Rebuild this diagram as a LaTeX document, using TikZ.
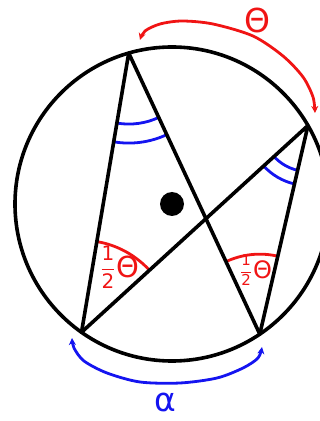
\documentclass[tikz,border=0pt]{standalone}
\usepackage{fontspec}
\newfontfamily\lab{DejaVu Sans}
\usetikzlibrary{calc,angles,arrows.meta}
\definecolor{myred}{RGB}{240,20,20}
\definecolor{myblue}{RGB}{20,20,240}
\newcommand{\halfth}[2]{\fontsize{#1}{#1}\selectfont$\vcenter{\hbox{$\displaystyle\frac{\hbox{\lab 1}}{\hbox{\lab 2}}$}}$\hspace{1pt}$\vcenter{\hbox{\fontsize{#2}{#2}\selectfont\lab Θ}}$}
\tikzset{
  chord/.style={line width=3.6pt, line cap=round, line join=round, black},
  bluearc/.style={line width=2.8pt, myblue},
  redarc/.style={line width=2.8pt, myred},
  tip/.tip={Stealth[length=7pt,width=7pt]}
}
\begin{document}
\begin{tikzpicture}[x=1pt,y=1pt]
\useasboundingbox (0,0) rectangle (320,421);
\clip (0,0) rectangle (320,421);
\coordinate (O) at (172,217);
\coordinate (A) at ($(O)+(106:157)$);
\coordinate (B) at ($(O)+(30:157)$);
\coordinate (C) at ($(O)+(234.8:157)$);
\coordinate (D) at ($(O)+(304:157)$);
% angle marks
\pic[draw=myblue, line width=2.8pt, angle radius=71pt] {angle=C--A--D};
\pic[draw=myblue, line width=2.8pt, angle radius=90pt] {angle=C--A--D};
\pic[draw=myblue, line width=2.8pt, angle radius=46pt] {angle=C--B--D};
\pic[draw=myblue, line width=2.8pt, angle radius=60pt] {angle=C--B--D};
\pic[draw=myred, line width=2.8pt, angle radius=92pt] {angle=B--C--A};
\pic[draw=myred, line width=2.8pt, angle radius=80pt] {angle=B--D--A};
% circle and chords
\draw[chord] (O) circle[radius=157];
\draw[chord] (C) -- (A) -- (D);
\draw[chord] (C) -- (B) -- (D);
\fill (O) circle[radius=12];
% outer arcs
\draw[redarc, tip-tip] plot[smooth] coordinates {(140,381) (145,390) (160,397) (182,400) (213,397) (253,385) (283,365) (303,344) (313,324) (315,308)};
\draw[bluearc, tip-tip] plot[smooth] coordinates {(72,83) (74,73) (84,60) (107,48) (140,39) (180,38) (217,43) (243,53) (258,63) (262,74)};
% labels
\node[text=myred, font=\fontsize{33}{33}\selectfont\lab, inner sep=0pt] (th) at (257,401) {Θ};
\node[text=myblue, font=\fontsize{33}{33}\selectfont\lab, inner sep=0pt] (al) at (165,19) {α};
\node[text=myred, inner sep=0pt] (hc) at (120,154) {\halfth{20}{29}};
\node[text=myred, inner sep=0pt] (hd) at (256,151) {\halfth{15}{24}};
\end{tikzpicture}
\end{document}
